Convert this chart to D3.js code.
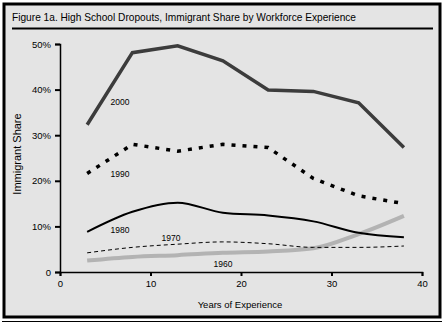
<!DOCTYPE html>
<html><head><meta charset="utf-8">
<script src="https://cdn.jsdelivr.net/npm/d3@7"></script>
<style>body{margin:0;background:#fff}svg{display:block}text{font-family:"Liberation Sans",Arial,sans-serif}</style>
</head><body>
<script>
const years = [3, 8, 13, 18, 23, 28, 33, 38];
const s2000 = [32.3, 48.1, 49.6, 46.3, 39.9, 39.6, 37.1, 27.3];
const s1990 = [21.6, 28.0, 26.5, 28.0, 27.3, 20.5, 16.7, 15.0];
const s1980 = [8.8, 13.2, 15.2, 13.0, 12.4, 11.1, 8.6, 7.6];
const s1970 = [4.2, 5.4, 6.1, 6.6, 6.2, 5.4, 5.4, 5.7];
const s1960 = [2.5, 3.3, 3.7, 4.2, 4.5, 5.2, 8.3, 12.3];
const xTicks = [0, 10, 20, 30, 40];
const yTicks = [0, 10, 20, 30, 40, 50];
const title = "Figure 1a. High School Dropouts, Immigrant Share by Workforce Experience";

const W = 445, H = 323;
const svg = d3.select("body").append("svg").attr("width", W).attr("height", H);

// background & frame
svg.append("rect").attr("x", 4).attr("y", 4).attr("width", 436).attr("height", 313)
  .attr("fill", "#e4e4e4").attr("stroke", "#000").attr("stroke-width", 3);
svg.append("line").attr("x1", 2).attr("x2", 442).attr("y1", 321.5).attr("y2", 321.5)
  .attr("stroke", "#000").attr("stroke-width", 1);

svg.append("text").attr("x", 12).attr("y", 21).attr("font-size", 11.5).attr("fill", "#000")
  .attr("textLength", 344).attr("lengthAdjust", "spacingAndGlyphs").text(title);
svg.append("line").attr("x1", 12).attr("x2", 433).attr("y1", 28.5).attr("y2", 28.5)
  .attr("stroke", "#000").attr("stroke-width", 2);

const x = d3.scaleLinear().domain([0, 40]).range([60, 422]);
const y = d3.scaleLinear().domain([0, 50]).range([272, 44]);

const fmt = d => d === 0 ? "0" : d + "%";
const yAxis = svg.append("g").attr("transform", "translate(60,0)")
  .call(d3.axisLeft(y).tickValues(yTicks).tickFormat(fmt).tickSize(5).tickPadding(4));
const xAxis = svg.append("g").attr("transform", "translate(0,272)")
  .call(d3.axisBottom(x).tickValues(xTicks).tickSize(4).tickPadding(4));
[yAxis, xAxis].forEach(g => {
  g.select(".domain").attr("stroke", "#000").attr("stroke-width", 1.5);
  g.selectAll(".tick line").attr("stroke", "#000").attr("stroke-width", 2);
  g.selectAll("text").attr("font-size", 9.5).attr("fill", "#000")
    .attr("font-family", "Liberation Sans, Arial, sans-serif");
});

svg.append("text").attr("transform", "translate(21,154) rotate(-90)").attr("text-anchor", "middle")
  .attr("font-size", 11).text("Immigrant Share");
svg.append("text").attr("x", 240).attr("y", 308).attr("text-anchor", "middle")
  .attr("font-size", 9.5).text("Years of Experience");

const line = d3.line().x((d, i) => x(years[i])).y(d => y(d));
const smooth = d3.line().x((d, i) => x(years[i])).y(d => y(d)).curve(d3.curveMonotoneX);

const series = [
  {v: s1960, gen: smooth, color: "#b3b3b3", w: 4, dash: null},
  {v: s1970, gen: smooth, color: "#000", w: 1, dash: "4,3"},
  {v: s1980, gen: smooth, color: "#000", w: 2, dash: null},
  {v: s1990, gen: line, color: "#000", w: 3.5, dash: "4,7"},
  {v: s2000, gen: line, color: "#3c3c3c", w: 3.5, dash: null},
];
series.forEach(s => {
  svg.append("path").attr("d", s.gen(s.v)).attr("fill", "none")
    .attr("stroke", s.color).attr("stroke-width", s.w)
    .attr("stroke-dasharray", s.dash);
});

const labels = [["2000", 120, 105], ["1990", 120, 177], ["1980", 120, 233], ["1970", 171, 241], ["1960", 223, 267]];
labels.forEach(l => svg.append("text").attr("x", l[1]).attr("y", l[2]).attr("text-anchor", "middle")
  .attr("font-size", 8.5).text(l[0]));
</script>
</body></html>
